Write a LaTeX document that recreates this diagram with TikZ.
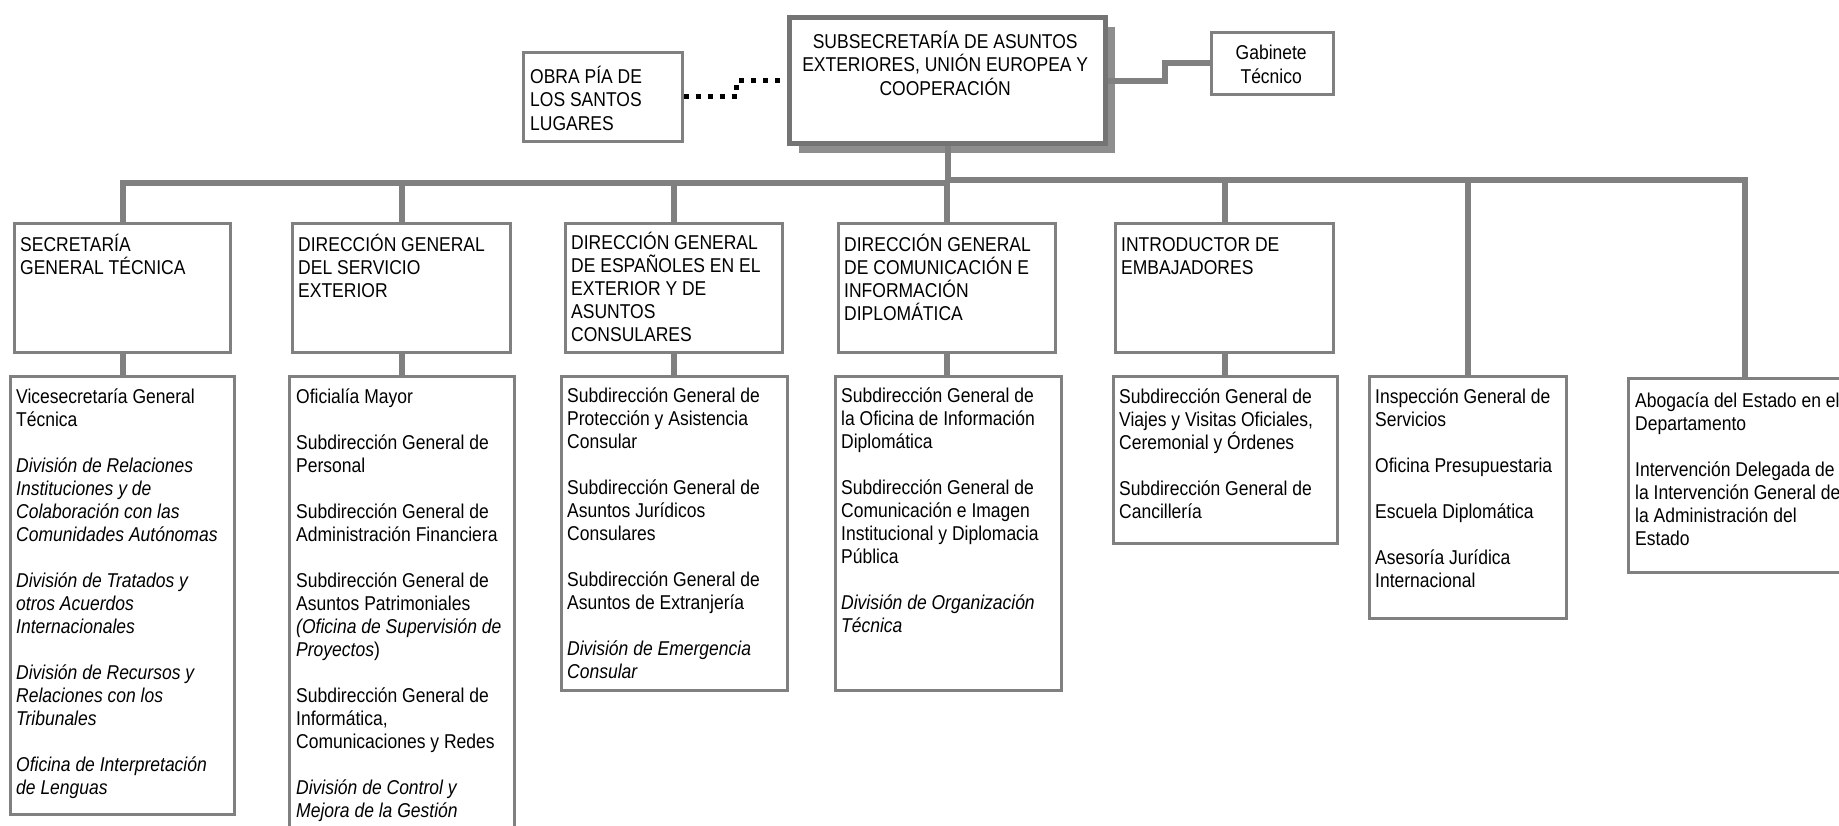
\documentclass[tikz,border=0pt]{standalone}
\usepackage{fontspec}
\setmainfont{Liberation Sans}[FakeStretch=0.875]
\usetikzlibrary{shadows,calc}
\definecolor{lgray}{HTML}{808080}
\definecolor{dgray}{HTML}{747474}
\definecolor{sgray}{HTML}{8E8E8E}
\tikzset{
 conn/.style={draw=lgray, line width=6pt},
 dotconn/.style={draw=black, line width=5pt, dash pattern=on 5pt off 7pt},
 sbox/.style={draw=lgray, line width=2.5pt, fill=white, inner sep=0pt},
 hbox/.style={draw=lgray, line width=3pt, fill=white, inner sep=0pt},
 tbox/.style={draw=lgray, line width=2.5pt, fill=white, inner sep=0pt},
 mbox/.style={draw=dgray, line width=5pt, fill=white, inner sep=0pt,
   drop shadow={shadow xshift=9pt, shadow yshift=-9pt, fill=sgray, opacity=1}},
 txt/.style={inner sep=0pt, anchor=base west},
}
% name, x1, y1, x2, y2, style, xoff, first-baseline offset, text
\newcommand\obox[9]{%
 \pgfmathsetmacro\obW{#4-#2}\pgfmathsetmacro\obH{#5-#3}%
 \node[#6, anchor=north west, minimum width=\obW pt, minimum height=\obH pt] (#1) at (#2,#3) {};
 \node[txt] (#1t) at (#2+#7, #3+#8) {\parbox[t]{\obW pt}{\raggedright\fontsize{20}{23}\selectfont #9}};
}
\begin{document}
\begin{tikzpicture}[x=1pt, y=-1pt]
\useasboundingbox (0,0) rectangle (1839,825);
\fill[white] (0,0) rectangle (1839,825);

% top level
\node[mbox, anchor=north west, minimum width=316pt, minimum height=126pt] (main) at (787,15) {};
\node[txt] (maint) at (787,48) {\parbox[t]{316pt}{\centering\fontsize{20}{23.5}\selectfont
 SUBSECRETARÍA DE ASUNTOS\\ EXTERIORES, UNIÓN EUROPEA Y\\ COOPERACIÓN}};

\node[tbox, anchor=north west, minimum width=159pt, minimum height=89pt] (obra) at (522,51) {};
\node[txt] (obrat) at (530,83) {\parbox[t]{159pt}{\raggedright\fontsize{20}{23.5}\selectfont
 OBRA PÍA DE\\ LOS SANTOS\\ LUGARES}};

\node[tbox, anchor=north west, minimum width=122pt, minimum height=62pt] (gab) at (1210,31) {};
\node[txt] (gabt) at (1210,59) {\parbox[t]{122pt}{\centering\fontsize{20}{24}\selectfont
 Gabinete\\ Técnico}};

% second level
\obox{h1}{13}{222}{229}{351}{hbox}{7}{29}{SECRETARÍA\\ GENERAL TÉCNICA}
\obox{h2}{291}{222}{509}{351}{hbox}{7}{29}{DIRECCIÓN GENERAL\\ DEL SERVICIO\\ EXTERIOR}
\obox{h3}{564}{222}{781}{351}{hbox}{7}{27}{DIRECCIÓN GENERAL\\ DE ESPAÑOLES EN EL\\ EXTERIOR Y DE\\ ASUNTOS\\ CONSULARES}
\obox{h4}{837}{222}{1054}{351}{hbox}{7}{29}{DIRECCIÓN GENERAL\\ DE COMUNICACIÓN E\\ INFORMACIÓN\\ DIPLOMÁTICA}
\obox{h5}{1114}{222}{1332}{351}{hbox}{7}{29}{INTRODUCTOR DE\\ EMBAJADORES}

% third level
\obox{s1}{9}{375}{233}{813}{sbox}{7}{28}{Vicesecretaría General\\ Técnica\\[23pt]
 \textit{División de Relaciones\\ Instituciones y de\\ Colaboración con las\\ Comunidades Autónomas}\\[23pt]
 \textit{División de Tratados y\\ otros Acuerdos\\ Internacionales}\\[23pt]
 \textit{División de Recursos y\\ Relaciones con los\\ Tribunales}\\[23pt]
 \textit{Oficina de Interpretación\\ de Lenguas}}
\obox{s2}{288}{375}{513}{850}{sbox}{8}{28}{Oficialía Mayor\\[23pt]
 Subdirección General de\\ Personal\\[23pt]
 Subdirección General de\\ Administración Financiera\\[23pt]
 Subdirección General de\\ Asuntos Patrimoniales\\ \textit{(Oficina de Supervisión de\\ Proyectos})\\[23pt]
 Subdirección General de\\ Informática,\\ Comunicaciones y Redes\\[23pt]
 \textit{División de Control y\\ Mejora de la Gestión}}
\obox{s3}{560}{375}{786}{689}{sbox}{7}{27}{Subdirección General de\\ Protección y Asistencia\\ Consular\\[23pt]
 Subdirección General de\\ Asuntos Jurídicos\\ Consulares\\[23pt]
 Subdirección General de\\ Asuntos de Extranjería\\[23pt]
 \textit{División de Emergencia\\ Consular}}
\obox{s4}{834}{375}{1060}{689}{sbox}{7}{27}{Subdirección General de\\ la Oficina de Información\\ Diplomática\\[23pt]
 Subdirección General de\\ Comunicación e Imagen\\ Institucional y Diplomacia\\ Pública\\[23pt]
 \textit{División de Organización\\ Técnica}}
\obox{s5}{1112}{375}{1336}{542}{sbox}{7}{28}{Subdirección General de\\ Viajes y Visitas Oficiales,\\ Ceremonial y Órdenes\\[23pt]
 Subdirección General de\\ Cancillería}
\obox{s6}{1368}{375}{1565}{617}{sbox}{7}{28}{Inspección General de\\ Servicios\\[23pt]
 Oficina Presupuestaria\\[23pt]
 Escuela Diplomática\\[23pt]
 Asesoría Jurídica\\ Internacional}
\obox{s7}{1627}{377}{1861}{571}{sbox}{8}{30}{Abogacía del Estado en el\\ Departamento\\[23pt]
 Intervención Delegada de\\ la Intervención General de\\ la Administración del\\ Estado}

% connectors
\coordinate (busl) at (0,183);
\coordinate (busr) at (0,179.5);
\draw[conn] (main.south) -- (main.south |- busl);
\draw[conn] (main.south |- busl) -- (h1.north |- busl) -- (h1.north);
\draw[conn] (h2.north |- busl) -- (h2.north);
\draw[conn] (h3.north |- busl) -- (h3.north);
\draw[conn] (main.south |- busr) -- (s7.north |- busr) -- (s7.north);
\draw[conn] (h4.north |- busr) -- (h4.north);
\draw[conn] (h5.north |- busr) -- (h5.north);
\draw[conn] (s6.north |- busr) -- (s6.north);
\foreach \i in {1,...,5} {\draw[conn] (h\i.south) -- (h\i.south |- s\i.north);}
\draw[conn] (main.east) -- ++(57,0) |- (gab.west);
\draw[dotconn] (obra.east) -- ++(53,0) |- (main.west);
\end{tikzpicture}
\end{document}
